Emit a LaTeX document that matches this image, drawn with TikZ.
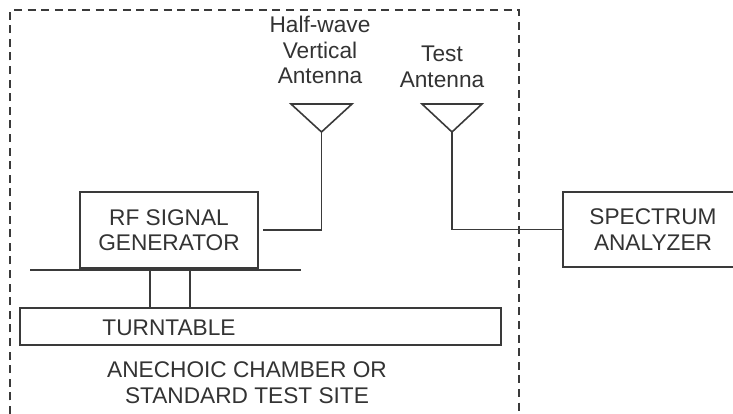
\documentclass[tikz,border=0pt]{standalone}
\usepackage{fontspec}
\setmainfont{Liberation Sans}
\usepackage{xcolor}
\definecolor{inkline}{HTML}{3A3A3A}
\definecolor{inktext}{HTML}{333333}
\tikzset{
  wire/.style={draw=inkline, line width=1.2pt},
  chamber/.style={draw=inkline, line width=1.1pt, dash pattern=on 6pt off 4.2pt},
  unitbox/.style={draw=inkline, line width=1.2pt, inner sep=0pt, align=center, font=\fontsize{17}{18.9}\selectfont, text=inktext},
  caption/.style={inner sep=0pt, align=center, font=\fontsize{17}{19.4}\selectfont, text=inktext},
}
\begin{document}
\begin{tikzpicture}[x=0.75pt,y=-0.75pt]
\useasboundingbox (0,0) rectangle (733,414);

% test chamber
\coordinate (chamberBL) at (10,414);
\coordinate (chamberTL) at (10,10);
\coordinate (chamberTR) at (519,10);
\coordinate (chamberBR) at (519,414);
\draw[chamber] (chamberBL) -- (chamberTL) -- (chamberTR) -- (chamberBR);

% units
\node[unitbox, minimum width=133.5pt, minimum height=57pt] (gen) at (169,230) {RF SIGNAL\\GENERATOR};
\node[unitbox, minimum width=135pt, minimum height=56.5pt] (analyzer) at (653,229.5) {SPECTRUM\\ANALYZER};
\node[draw=inkline, line width=1.2pt, inner sep=0pt, minimum width=360.75pt, minimum height=27.75pt] (table) at (260.5,326.5) {};
\node[caption] (tablelabel) at (169,328) {TURNTABLE};
\node[caption] (site) at (247,383) {ANECHOIC CHAMBER OR\\STANDARD TEST SITE};

% half-wave antenna
\coordinate (halfL) at (291,104);
\coordinate (halfR) at (352,104);
\coordinate (halfTip) at (321.5,132);
\draw[wire, line join=miter] (halfL) -- (halfR) -- (halfTip) -- cycle;
\node[caption] (halflabel) at (320,50) {Half-wave\\Vertical\\Antenna};
\draw[wire, shorten >=3pt] (halfTip) |- (gen.east);

% test antenna
\coordinate (testL) at (422,104);
\coordinate (testR) at (482,104);
\coordinate (testTip) at (452,132);
\draw[wire, line join=miter] (testL) -- (testR) -- (testTip) -- cycle;
\node[caption] (testlabel) at (442,67) {Test\\Antenna};
\draw[wire] (testTip) |- (analyzer.west);

% stand under the generator
\coordinate (baseL) at (30,270);
\coordinate (baseR) at (301,270);
\coordinate (legA) at (150,270);
\coordinate (legB) at (190,270);
\draw[wire] (baseL) -- (baseR);
\draw[wire] (legA) -- (legA |- table.north);
\draw[wire] (legB) -- (legB |- table.north);
\end{tikzpicture}
\end{document}
